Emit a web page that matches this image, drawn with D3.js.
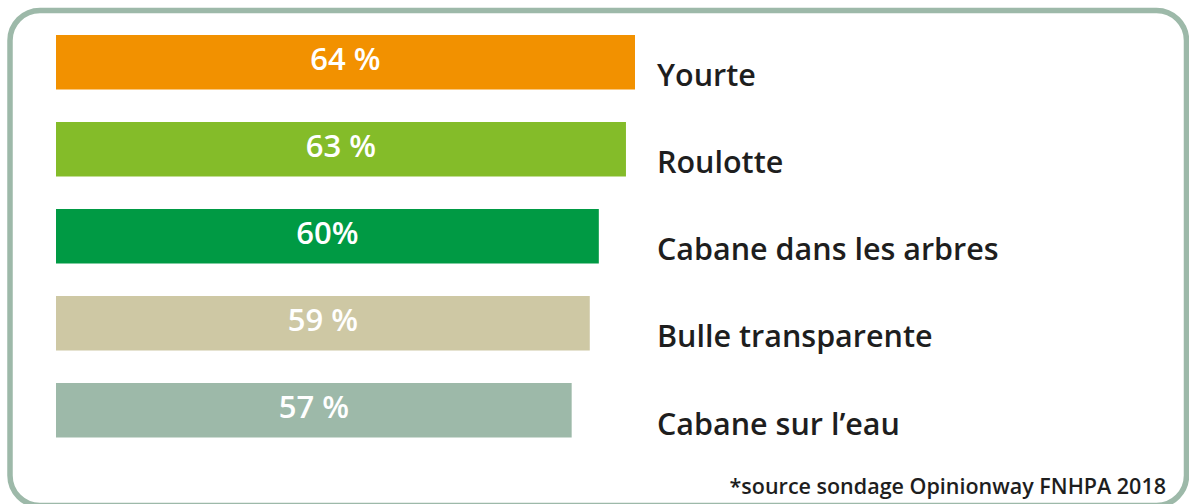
<!DOCTYPE html>
<html>
<head>
<meta charset="utf-8">
<script src="https://cdn.jsdelivr.net/npm/d3@7"></script>
<style>
  html, body { margin: 0; padding: 0; background: #ffffff; }
  svg { display: block; }
</style>
</head>
<body>
<svg id="chart" width="1189" height="504"></svg>
<script>
const categories = ["Yourte", "Roulotte", "Cabane dans les arbres", "Bulle transparente", "Cabane sur l\u2019eau"];
const values = [64, 63, 60, 59, 57];
const valueLabels = ["64 %", "63 %", "60%", "59 %", "57 %"];
const colors = ["#F29100", "#84BC29", "#009A44", "#CEC8A4", "#9DB9A9"];
const sourceNote = "*source sondage Opinionway FNHPA 2018";

const svg = d3.select("#chart");

// frame
svg.append("rect")
  .attr("x", 10).attr("y", 10.5)
  .attr("width", 1176.5).attr("height", 495)
  .attr("rx", 30).attr("ry", 30)
  .attr("fill", "none")
  .attr("stroke", "#9DB9A9")
  .attr("stroke-width", 5.5);

const x = d3.scaleLinear().domain([0, 64]).range([56, 635]);
const y = d3.scaleBand().domain(categories).range([35, 437.5]).paddingInner(0.3736).paddingOuter(0);

const g = svg.append("g");

g.selectAll("rect.bar")
  .data(categories)
  .join("rect")
  .attr("class", "bar")
  .attr("x", x(0))
  .attr("y", d => y(d))
  .attr("width", (d, i) => x(values[i]) - x(0))
  .attr("height", y.bandwidth())
  .attr("fill", (d, i) => colors[i]);

g.selectAll("text.val")
  .data(categories)
  .join("text")
  .attr("class", "val")
  .attr("x", (d, i) => (x(0) + x(values[i])) / 2)
  .attr("y", d => y(d) + y.bandwidth() / 2 + 8)
  .attr("text-anchor", "middle")
  .attr("fill", "#ffffff")
  .attr("font-family", "'Open Sans', sans-serif")
  .attr("font-weight", 600)
  .attr("font-size", 31)
  .text((d, i) => valueLabels[i]);

g.selectAll("text.cat")
  .data(categories)
  .join("text")
  .attr("class", "cat")
  .attr("x", 657)
  .attr("y", d => y(d) + y.bandwidth() - 3)
  .attr("fill", "#1e1e1e")
  .attr("font-family", "'Open Sans', sans-serif")
  .attr("font-weight", 600)
  .attr("font-size", 30.5)
  .text(d => d);

svg.append("text")
  .attr("x", 1166)
  .attr("y", 494)
  .attr("text-anchor", "end")
  .attr("fill", "#1e1e1e")
  .attr("font-family", "'Open Sans', sans-serif")
  .attr("font-weight", 600)
  .attr("font-size", 21.5)
  .text(sourceNote);
</script>
</body>
</html>
